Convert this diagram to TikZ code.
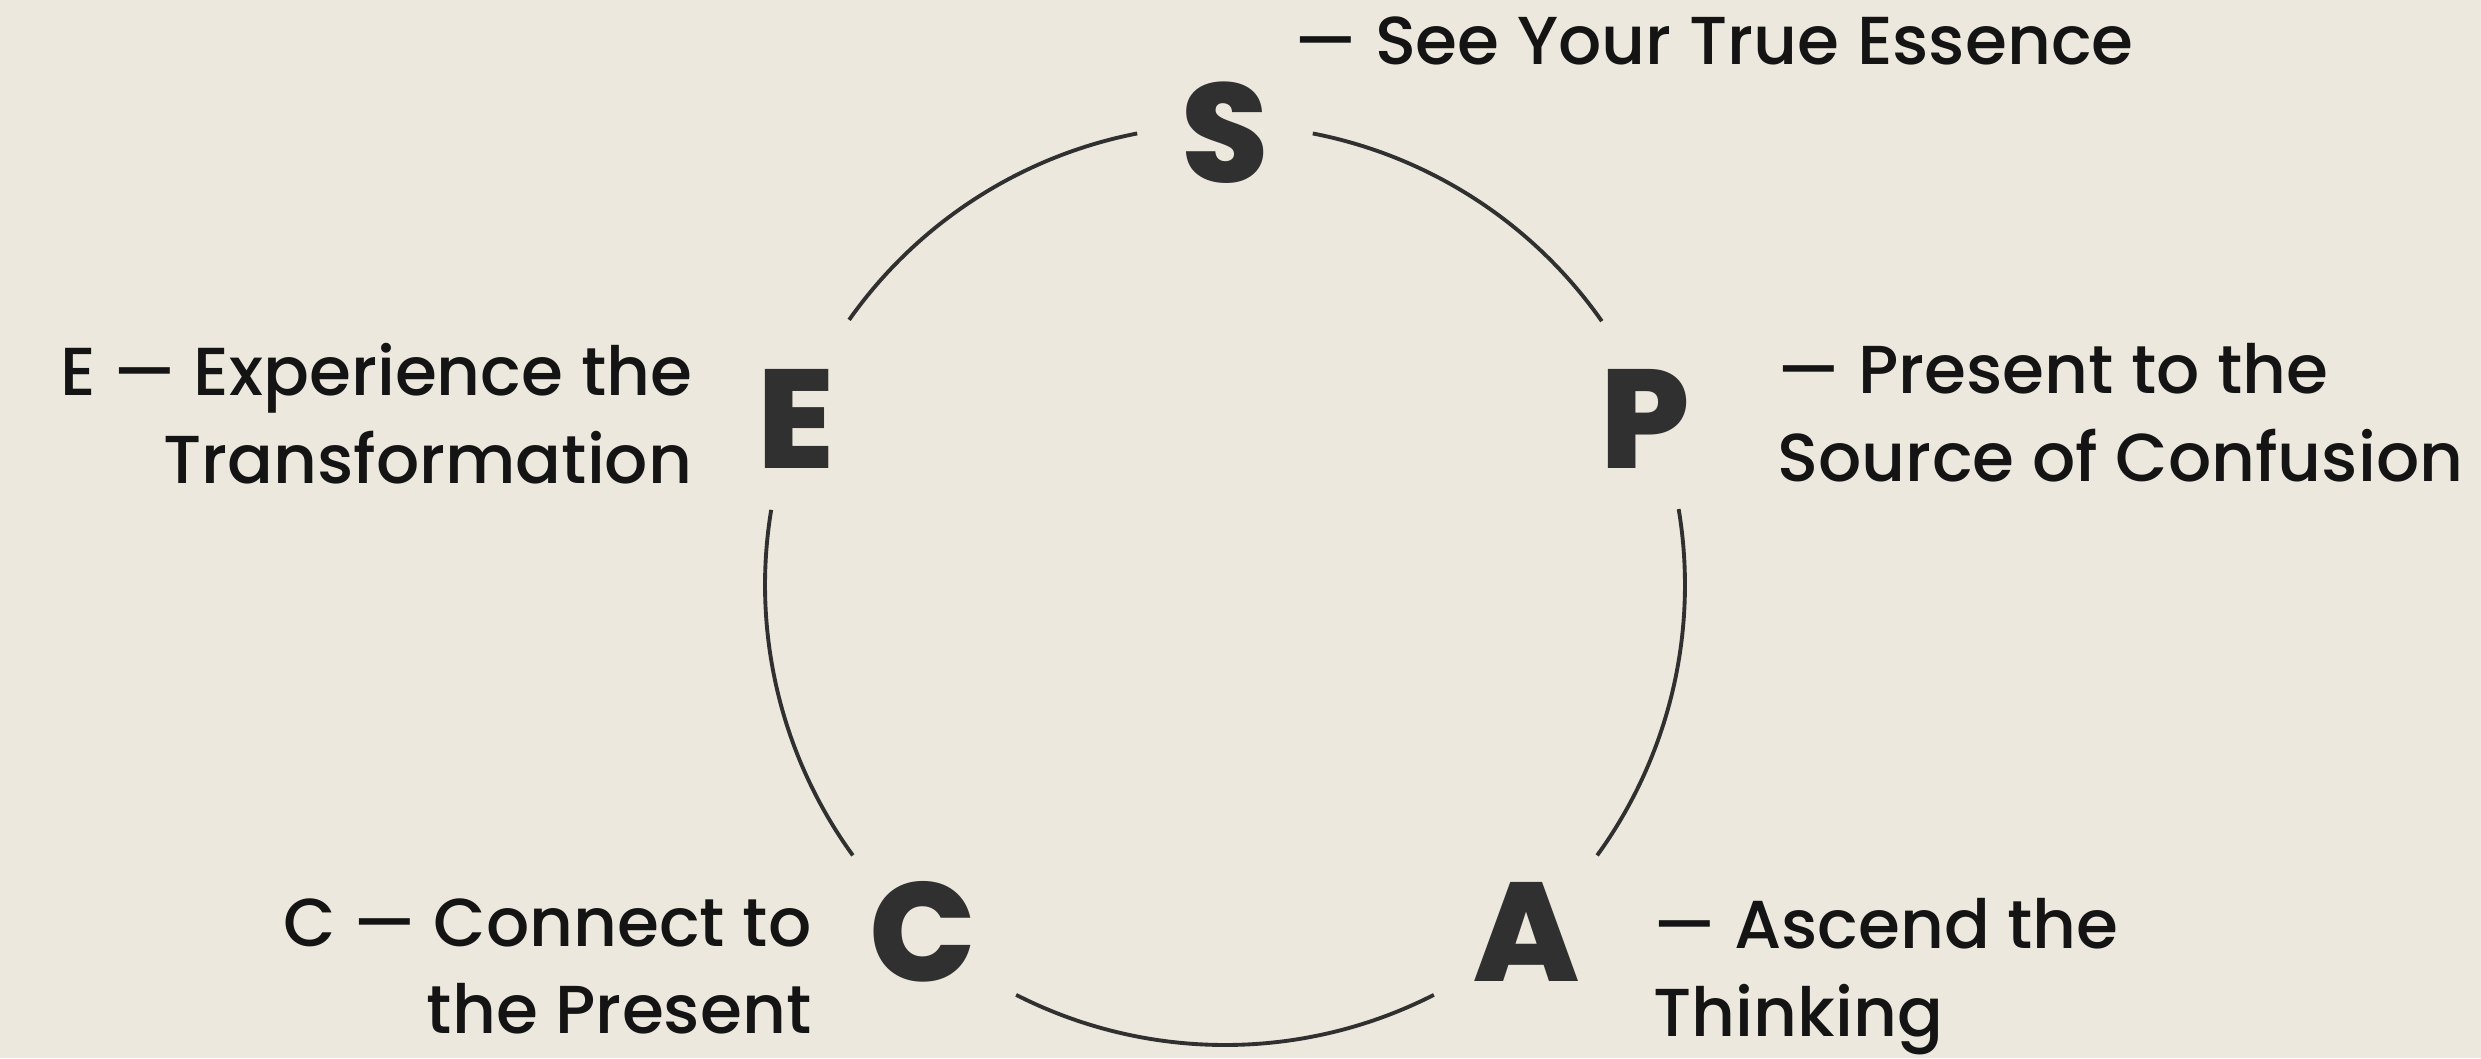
\documentclass[tikz,border=0pt]{standalone}
\usepackage{fontspec}
\setmainfont{Poppins}
\newfontfamily\capfont{Poppins Medium}
\newfontfamily\letterfont{Poppins ExtraBold}
\usepackage{xcolor}
\definecolor{paperbg}{HTML}{EDE8DD}
\definecolor{inkdark}{HTML}{141414}
\definecolor{ringgray}{HTML}{303030}
\usetikzlibrary{positioning}

\tikzset{
  letter/.style={inner sep=0pt, text=ringgray, font=\letterfont\fontsize{40}{46}\selectfont},
  caption/.style={inner sep=0pt, text=inkdark, font=\capfont\fontsize{19.3}{24.8}\selectfont},
  ring/.style={draw=ringgray, line width=1.1pt}
}

\begin{document}
\begin{tikzpicture}
  \fill[paperbg] (0,0) rectangle (24.81,10.58);
  \useasboundingbox (0,0) rectangle (24.81,10.58);

  \coordinate (mid) at (12.25,4.73);

  % the five letters on the ring
  \node[letter] (S) at ([shift={(90:4.52)}]mid) {S};
  \node[letter] (P) at ([shift={(21.5:4.52)}]mid) {P};
  \node[letter] (A) at ([shift={(-49:4.6)}]mid) {A};
  \node[letter] (C) at ([shift={(-131:4.6)}]mid) {C};
  \node[letter] (E) at ([shift={(158.8:4.6)}]mid) {E};

  % ring pieces between letters
  \draw[ring] ([shift={(79:4.6)}]mid) arc[start angle=79, end angle=35, radius=4.6];
  \draw[ring] ([shift={(9.5:4.6)}]mid) arc[start angle=9.5, end angle=-36, radius=4.6];
  \draw[ring] ([shift={(-63:4.6)}]mid) arc[start angle=-63, end angle=-117, radius=4.6];
  \draw[ring] ([shift={(-144:4.6)}]mid) arc[start angle=-144, end angle=-189.4, radius=4.6];
  \draw[ring] ([shift={(144.8:4.6)}]mid) arc[start angle=144.8, end angle=101, radius=4.6];

  % captions
  \node[caption, anchor=north west] (Stext) at (12.94,10.42) {— See Your True Essence};
  \node[caption, anchor=north west, align=left] (Ptext) at (17.77,7.15) {— Present to the\\Source of Confusion};
  \node[caption, anchor=north west, align=left] (Atext) at (16.53,1.6) {— Ascend the\\Thinking};
  \node[caption, anchor=north east, align=right] (Ctext) at (8.12,1.6) {C — Connect to\\the Present};
  \node[caption, anchor=north east, align=right] (Etext) at (6.93,7.15) {E — Experience the\\Transformation};
\end{tikzpicture}
\end{document}
